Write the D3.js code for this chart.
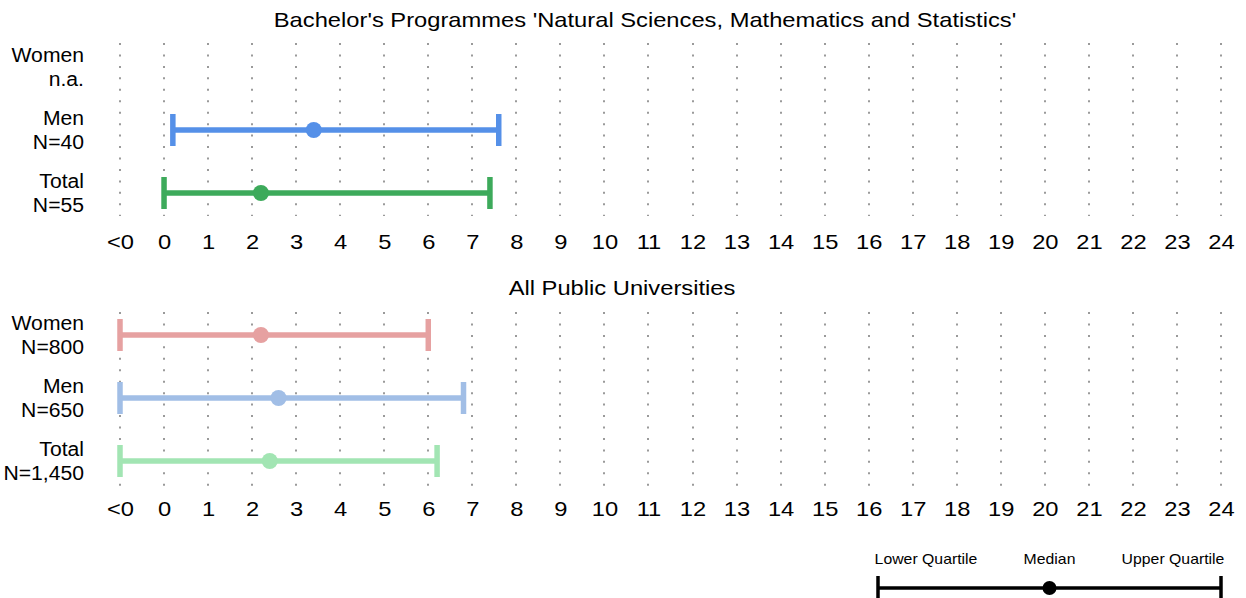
<!DOCTYPE html>
<html>
<head>
<meta charset="utf-8">
<script src="https://cdn.jsdelivr.net/npm/d3@7"></script>
<style>
	body{margin:0;background:#fff;}
	text{font-family:'Liberation Sans',Arial,sans-serif;fill:#000;}
</style>
</head>
<body>
<svg id="chart"></svg>
<script>
// x positions: -1 stands for "<0"
const tickValues = d3.range(-1, 25)
const tickLabels = ['<0','0','1','2','3','4','5','6','7','8','9','10','11','12','13','14','15','16','17','18','19','20','21','22','23','24']

const groups = ['Women','Men','Total']

// panel 1: Bachelor's programmes
const progTitle = "Bachelor's Programmes 'Natural Sciences, Mathematics and Statistics'"
const progN = ['n.a.','N=40','N=55']
const progLower = [null, 0.2, 0]
const progMedian = [null, 3.4, 2.2]
const progUpper = [null, 7.6, 7.4]
const progColors = ['#e6a1a1','#5590e8','#3daa5b']

// panel 2: all public universities
const uniTitle = 'All Public Universities'
const uniN = ['N=800','N=650','N=1,450']
const uniLower = [-1, -1, -1]
const uniMedian = [2.2, 2.6, 2.4]
const uniUpper = [6.0, 6.8, 6.2]
const uniColors = ['#e6a1a1','#a1bee6','#a2e5b3']

const legendLabels = ['Lower Quartile','Median','Upper Quartile']

let outer_width = 1246
let outer_height = 598

// the text in the picture is a bit wider than the font
const stretch = 1.13

const svg = d3.select('#chart')
	.attr('width', outer_width)
	.attr('height', outer_height)

const xScale = d3.scaleLinear()
	.domain([-1, 24])
	.range([120, 1221])

const panel = (cfg)=>{
	const g = svg.append('g')

	const yScale = d3.scalePoint()
		.domain(groups)
		.range(cfg.rows)

	g.append('text')
		.text(cfg.title)
		.attr('transform',`translate(${cfg.titleX},${cfg.titleY}) scale(${stretch},1)`)
		.attr('text-anchor','middle')
		.attr('font-size','21px')

	// dotted grid
	g.selectAll('.grid')
		.data(tickValues)
		.enter()
		.append('line')
		.attr('x1', d => Math.round(xScale(d)))
		.attr('x2', d => Math.round(xScale(d)))
		.attr('y1', cfg.grid[0])
		.attr('y2', cfg.grid[1])
		.attr('stroke','#9a9a9a')
		.attr('stroke-width',2)
		.attr('stroke-dasharray','2,9.45')

	const axis = g.append('g')
		.attr('transform',`translate(0,${cfg.axisY})`)
		.call(
			d3.axisBottom(xScale)
			.tickValues(tickValues)
			.tickFormat((d,i) => tickLabels[i])
			.tickSize(0)
			.tickPadding(3)
		)
	axis.select('.domain').remove()
	axis.selectAll('text')
		.attr('font-family',"'Liberation Sans',Arial,sans-serif")
		.attr('font-size','21px')
		.attr('fill','#000')
		.attr('transform',`scale(${stretch},1)`)

	// row labels
	const labels = g.selectAll('.rowlabel')
		.data(groups)
		.enter()
		.append('text')
		.attr('text-anchor','end')
		.attr('font-size','19.5px')
		.attr('transform', d => `translate(84,${yScale(d)}) scale(${stretch * 0.96},1)`)
	labels.append('tspan')
		.attr('x',0)
		.attr('y',-5)
		.text(d => d)
	labels.append('tspan')
		.attr('x',0)
		.attr('y',19)
		.text((d,i) => cfg.n[i])

	const rows = groups.map((d,i)=>({
		name: d,
		lower: cfg.lower[i],
		median: cfg.median[i],
		upper: cfg.upper[i],
		color: cfg.colors[i]
	})).filter(d => d.median != null)

	const bars = g.selectAll('.range')
		.data(rows)
		.enter()
		.append('g')

	bars.append('line')
		.attr('x1', d => xScale(d.lower))
		.attr('x2', d => xScale(d.upper))
		.attr('y1', d => yScale(d.name))
		.attr('y2', d => yScale(d.name))
		.attr('stroke', d => d.color)
		.attr('stroke-width',5.5)

	bars.selectAll('.cap')
		.data(d => [d.lower, d.upper].map(v => ({v:v, name:d.name, color:d.color})))
		.enter()
		.append('line')
		.attr('x1', d => xScale(d.v))
		.attr('x2', d => xScale(d.v))
		.attr('y1', d => yScale(d.name) - 16)
		.attr('y2', d => yScale(d.name) + 16)
		.attr('stroke', d => d.color)
		.attr('stroke-width',5.5)

	bars.append('circle')
		.attr('cx', d => xScale(d.median))
		.attr('cy', d => yScale(d.name))
		.attr('r',8)
		.attr('fill', d => d.color)
}

panel({
	title: progTitle, titleX: 645, titleY: 26.5,
	rows: [67,193], grid: [43,216], axisY: 230.6,
	n: progN, lower: progLower, median: progMedian, upper: progUpper, colors: progColors
})

panel({
	title: uniTitle, titleX: 622, titleY: 294.5,
	rows: [335,461], grid: [312,486], axisY: 497.6,
	n: uniN, lower: uniLower, median: uniMedian, upper: uniUpper, colors: uniColors
})

// legend
const legScale = d3.scalePoint()
	.domain(legendLabels)
	.range([878,1221])

const legend = svg.append('g')

legend.selectAll('text')
	.data(legendLabels)
	.enter()
	.append('text')
	.text(d => d)
	.attr('transform', (d,i) => `translate(${legScale(d) + [48,0,-48][i]},564) scale(${stretch},1)`)
	.attr('text-anchor','middle')
	.attr('font-size','14px')

legend.append('line')
	.attr('x1', legScale(legendLabels[0]))
	.attr('x2', legScale(legendLabels[2]))
	.attr('y1',588)
	.attr('y2',588)
	.attr('stroke','#000')
	.attr('stroke-width',3.5)

legend.selectAll('.lcap')
	.data([legendLabels[0], legendLabels[2]])
	.enter()
	.append('line')
	.attr('x1', d => legScale(d))
	.attr('x2', d => legScale(d))
	.attr('y1',576)
	.attr('y2',600)
	.attr('stroke','#000')
	.attr('stroke-width',3.5)

legend.append('circle')
	.attr('cx', legScale(legendLabels[1]))
	.attr('cy',588)
	.attr('r',7)
	.attr('fill','#000')
</script>
</body>
</html>
